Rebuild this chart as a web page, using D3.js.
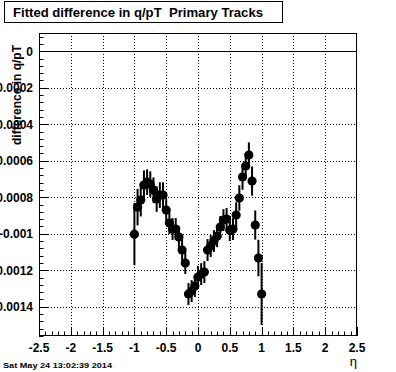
<!DOCTYPE html>
<html>
<head>
<meta charset="utf-8">
<script src="https://cdn.jsdelivr.net/npm/d3@7"></script>
<style>
  html, body { margin: 0; padding: 0; background: #fff; }
  svg { display: block; font-family: "Liberation Sans", Arial, sans-serif; }
</style>
</head>
<body>
<svg id="chart" width="396" height="372"></svg>
<script>
// eta bin centres
const eta = [-1.00, -0.95, -0.90, -0.85, -0.80, -0.75, -0.70, -0.65, -0.60, -0.55,
             -0.50, -0.45, -0.40, -0.35, -0.30, -0.25, -0.20, -0.15, -0.10, -0.05,
              0.00,  0.05,  0.10,  0.15,  0.20,  0.25,  0.30,  0.35,  0.40,  0.45,
              0.50,  0.55,  0.60,  0.65,  0.70,  0.75,  0.80,  0.85,  0.90,  0.95, 1.00];
// fitted difference in q/pT
const diff = [-0.001002, -0.000854, -0.000815, -0.000733, -0.000717, -0.000728, -0.000761, -0.000810, -0.000788, -0.000788,
              -0.000870, -0.000941, -0.000974, -0.000974, -0.001018, -0.001089, -0.001160, -0.001330, -0.001314, -0.001286,
              -0.001237, -0.001221, -0.001210, -0.001089, -0.001067, -0.001040, -0.001013, -0.000963, -0.000925, -0.000919,
              -0.000980, -0.000974, -0.000897, -0.000804, -0.000689, -0.000629, -0.000569, -0.000711, -0.000952, -0.001133, -0.001330];
// error on the fit
const err = [0.00017, 0.00010, 0.00009, 0.00008, 0.00007, 0.00007, 0.00007, 0.00007, 0.00007, 0.00007,
             0.00006, 0.00006, 0.00006, 0.00006, 0.00006, 0.00006, 0.00006, 0.00006, 0.00006, 0.00006,
             0.00006, 0.00006, 0.00006, 0.00006, 0.00006, 0.00006, 0.00006, 0.00006, 0.00006, 0.00006,
             0.00006, 0.00006, 0.00007, 0.00007, 0.00007, 0.00007, 0.00007, 0.00008, 0.00008, 0.00010, 0.00017];

const xTicks = [-2.5, -2, -1.5, -1, -0.5, 0, 0.5, 1, 1.5, 2, 2.5];
const yTicks = [0, -0.0002, -0.0004, -0.0006, -0.0008, -0.001, -0.0012, -0.0014];
const yTickLabels = ['0', '-0.0002', '-0.0004', '-0.0006', '-0.0008', '-0.001', '-0.0012', '-0.0014'];

const titleText = 'Fitted difference in q/pT  Primary Tracks';
const yTitle = 'difference in q/pT';
const xTitle = 'η';
const dateText = 'Sat May 24 13:02:39 2014';

const svg = d3.select('#chart');
const L = 39, R = 357, T = 33, B = 336;

const x = d3.scaleLinear().domain([-2.5, 2.5]).range([L, R]);
const y = d3.scaleLinear().domain([-0.00156, 0.0001]).range([B, T]);

// grid (dotted)
const grid = svg.append('g').attr('stroke', '#000').attr('stroke-width', 1).attr('stroke-dasharray', '1,2');
grid.selectAll('line.gx').data(xTicks.slice(1, -1)).join('line')
  .attr('x1', d => Math.round(x(d)) + 0.5).attr('x2', d => Math.round(x(d)) + 0.5)
  .attr('y1', T).attr('y2', B);
grid.selectAll('line.gy').data(yTicks.slice(1)).join('line')
  .attr('y1', d => Math.round(y(d)) + 0.5).attr('y2', d => Math.round(y(d)) + 0.5)
  .attr('x1', L).attr('x2', R);

// zero line
svg.append('line')
  .attr('x1', L).attr('x2', R)
  .attr('y1', Math.round(y(0)) + 0.5).attr('y2', Math.round(y(0)) + 0.5)
  .attr('stroke', '#000').attr('stroke-width', 1);

// ticks
const tk = svg.append('g').attr('stroke', '#000').attr('stroke-width', 1);
const xMinor = d3.range(-25, 26).map(i => i / 10);
tk.selectAll('line.xt').data(xMinor).join('line')
  .attr('x1', d => Math.round(x(d)) + 0.5).attr('x2', d => Math.round(x(d)) + 0.5)
  .attr('y1', B).attr('y2', d => B - (Math.abs(d * 2 - Math.round(d * 2)) < 1e-6 ? 9 : 4.5));
const yMinor = d3.range(-39, 3).map(i => i * 0.00004);
tk.selectAll('line.yt').data(yMinor).join('line')
  .attr('y1', d => Math.round(y(d)) + 0.5).attr('y2', d => Math.round(y(d)) + 0.5)
  .attr('x1', L).attr('x2', d => L + (Math.abs(d / 0.0002 - Math.round(d / 0.0002)) < 1e-6 ? 9 : 4.5));

// frame
svg.append('rect')
  .attr('x', L + 0.5).attr('y', T + 0.5).attr('width', R - L - 1).attr('height', B - T - 1)
  .attr('fill', 'none').attr('stroke', '#000').attr('stroke-width', 1);

// tick labels
svg.append('g').selectAll('text').data(xTicks).join('text')
  .attr('x', d => x(d)).attr('y', 352)
  .attr('text-anchor', 'middle')
  .attr('font-size', 12).attr('font-weight', 'bold')
  .text(d => d);
svg.append('g').selectAll('text').data(yTicks).join('text')
  .attr('x', 33).attr('y', d => y(d) + 4.5)
  .attr('text-anchor', 'end')
  .attr('font-size', 12).attr('font-weight', 'bold')
  .text((d, i) => yTickLabels[i]);

// axis titles
svg.append('text')
  .attr('transform', `translate(21,45) rotate(-90)`)
  .attr('text-anchor', 'end')
  .attr('font-size', 12).attr('font-weight', 'bold')
  .text(yTitle);
svg.append('text')
  .attr('x', 357).attr('y', 366)
  .attr('text-anchor', 'end')
  .attr('font-size', 13)
  .text(xTitle);

// data: error bars and markers
const pts = eta.map((e, i) => ({e, v: diff[i], s: err[i]}));
const dataG = svg.append('g');
dataG.selectAll('line').data(pts).join('line')
  .attr('x1', d => x(d.e)).attr('x2', d => x(d.e))
  .attr('y1', d => Math.min(B, y(d.v - d.s))).attr('y2', d => Math.max(T, y(d.v + d.s)))
  .attr('stroke', '#000').attr('stroke-width', 2);
dataG.selectAll('circle').data(pts).join('circle')
  .attr('cx', d => x(d.e)).attr('cy', d => y(d.v))
  .attr('r', 4.6).attr('fill', '#000');

// title box
svg.append('rect')
  .attr('x', 4.5).attr('y', 1.5).attr('width', 278).attr('height', 21)
  .attr('fill', '#fff').attr('stroke', '#000').attr('stroke-width', 1);
svg.append('text')
  .attr('x', 13).attr('y', 17)
  .style('white-space', 'pre')
  .attr('font-size', 13).attr('font-weight', 'bold')
  .attr('textLength', 250).attr('lengthAdjust', 'spacingAndGlyphs')
  .text(titleText);

// date stamp
svg.append('text')
  .attr('x', 3).attr('y', 368)
  .attr('font-size', 8).attr('font-weight', 'bold')
  .attr('textLength', 109).attr('lengthAdjust', 'spacingAndGlyphs')
  .text(dateText);
</script>
</body>
</html>
